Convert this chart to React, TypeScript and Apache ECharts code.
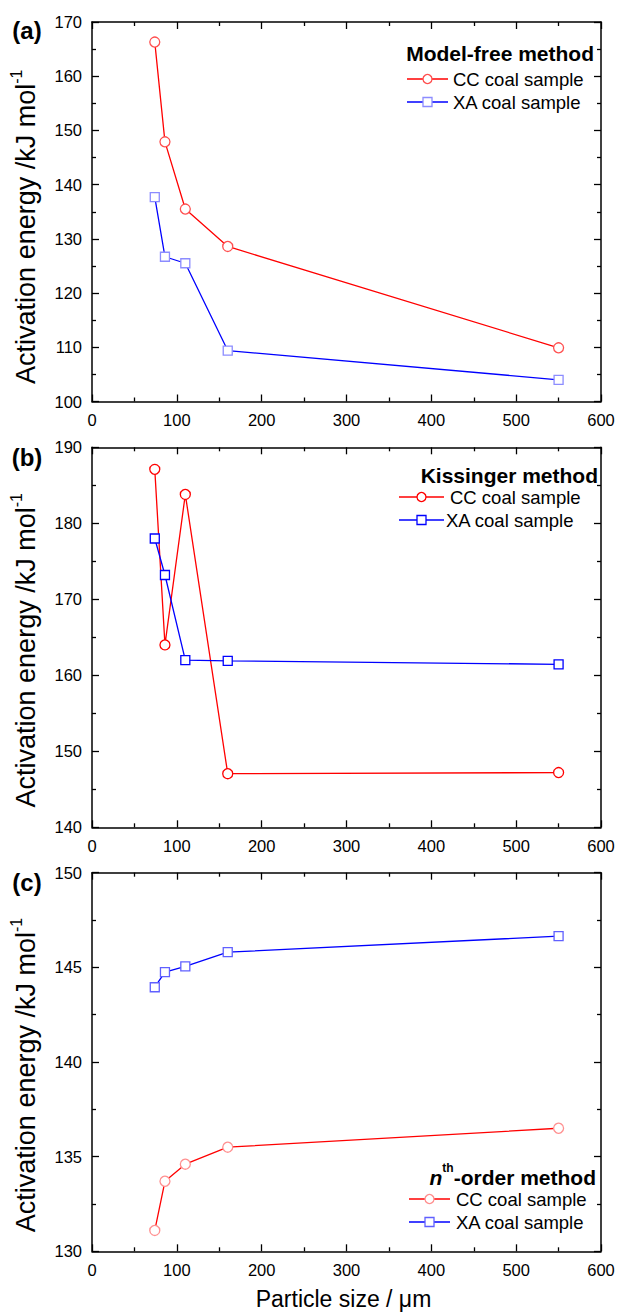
import React, { useEffect, useRef } from "react";
import * as echarts from "echarts";

const particleSizes = [74, 86, 110, 160, 550];
const ccModelFree = [166.3, 147.9, 135.5, 128.6, 109.9];
const xaModelFree = [137.7, 126.7, 125.5, 109.4, 104.0];
const ccKissinger = [187.1, 164.0, 183.8, 147.05, 147.2];
const xaKissinger = [178.0, 173.2, 162.0, 161.9, 161.45];
const ccNthOrder = [131.1, 133.7, 134.6, 135.5, 136.5];
const xaNthOrder = [143.95, 144.75, 145.05, 145.8, 146.65];

const panelLabels = ["(a)", "(b)", "(c)"];
const methodTitles = ["Model-free method", "Kissinger method", "{n|n}{s|th}{t|-order method}"];
const seriesNames = ["CC coal sample", "XA coal sample"];
const yRanges = [
  { min: 100, max: 170, interval: 10 },
  { min: 140, max: 190, interval: 10 },
  { min: 130, max: 150, interval: 5 },
];

const FONT = "Arial, 'Liberation Sans', sans-serif";

export default function App() {
  const ref = useRef<HTMLDivElement>(null);
  useEffect(() => {
    document.body.style.margin = "0";
    const chart = echarts.init(ref.current!, null, { renderer: "svg" });

    const grids = [
      { left: 90.5, top: 22, width: 510.5, height: 379.5 },
      { left: 90.5, top: 447.3, width: 510.5, height: 380 },
      { left: 90.5, top: 872.7, width: 510.5, height: 378.6 },
    ];

    const axisLine = { show: true, onZero: false, lineStyle: { color: "#000", width: 1.5 } };
    const tick = { show: true, inside: true, length: 7, lineStyle: { color: "#000", width: 1.3 } };
    const minor = { show: true, splitNumber: 2, length: 4, lineStyle: { color: "#000", width: 1.3 } };
    const titleShift = [30, 26, 26];

    const xAxes: any[] = [];
    const yAxes: any[] = [];
    grids.forEach((g, i) => {
      xAxes.push({
        type: "value", gridIndex: i, min: 0, max: 600, interval: 100, position: "bottom",
        axisLine, axisTick: tick, minorTick: minor, splitLine: { show: false },
        axisLabel: { color: "#000", fontSize: 16.5, fontFamily: FONT, margin: 10 },
        name: i === 2 ? "Particle size / μm" : "",
        nameLocation: "middle", nameGap: 36,
        nameTextStyle: { color: "#000", fontSize: 23, fontFamily: FONT, padding: [0, 6, 0, 0] },
      });
      xAxes.push({
        type: "value", gridIndex: i, min: 0, max: 600, interval: 100, position: "top",
        axisLine, axisTick: tick, minorTick: minor, splitLine: { show: false },
        axisLabel: { show: false },
      });
      const r = yRanges[i];
      yAxes.push({
        type: "value", gridIndex: i, min: r.min, max: r.max, interval: r.interval, position: "left",
        axisLine, axisTick: tick, minorTick: minor, splitLine: { show: false },
        axisLabel: { color: "#000", fontSize: 16.5, fontFamily: FONT, margin: 10 },
        name: "{a|Activation energy /kJ mol}{s|-1}",
        nameLocation: "middle", nameGap: 53, nameRotate: 90,
        nameTextStyle: {
          color: "#000", fontFamily: FONT, padding: [0, titleShift[i], 0, 0],
          rich: {
            a: { fontSize: 27, fontFamily: FONT, color: "#000", lineHeight: 31, verticalAlign: "bottom" },
            s: { fontSize: 16, fontFamily: FONT, color: "#000", lineHeight: 31, verticalAlign: "top" },
          },
        },
      });
      yAxes.push({
        type: "value", gridIndex: i, min: r.min, max: r.max, interval: r.interval, position: "right",
        axisLine, axisTick: tick, minorTick: minor, splitLine: { show: false },
        axisLabel: { show: false },
      });
    });

    const mk = (vals: number[]) => particleSizes.map((x, k) => [x, vals[k]]);
    const lineSeries = (
      name: string, vals: number[], gi: number, symbol: string, size: number,
      lineColor: string, markerColor: string
    ) => ({
      type: "line", name, data: mk(vals), xAxisIndex: gi * 2, yAxisIndex: gi * 2,
      symbol, symbolSize: size, showSymbol: true,
      lineStyle: { color: lineColor, width: 1.3 },
      itemStyle: { color: "#fff", borderColor: markerColor, borderWidth: 1.3 },
      z: 3,
    });

    const series = [
      lineSeries(seriesNames[0], ccModelFree, 0, "circle", 10, "#ff0000", "#ff5050"),
      lineSeries(seriesNames[1], xaModelFree, 0, "rect", 9, "#0000ff", "#8c8cff"),
      lineSeries(seriesNames[0], ccKissinger, 1, "circle", 10, "#ff0000", "#ff0000"),
      lineSeries(seriesNames[1], xaKissinger, 1, "rect", 9, "#0000ff", "#0000ff"),
      lineSeries(seriesNames[0], ccNthOrder, 2, "circle", 10, "#ff0000", "#ff9090"),
      lineSeries(seriesNames[1], xaNthOrder, 2, "rect", 9, "#0000ff", "#6060ff"),
    ];

    const legends = [
      { titleRight: 594, titleY: 53, row1: 79, row2: 102, lx0: 407, lx1: 448, t1: 453, t2: 453, cc: "#ff5050", xa: "#8c8cff" },
      { titleRight: 598, titleY: 475, row1: 497, row2: 520, lx0: 399, lx1: 444, t1: 450, t2: 446, cc: "#ff0000", xa: "#0000ff" },
      { titleRight: 596, titleY: 1175, row1: 1199, row2: 1222, lx0: 409, lx1: 450, t1: 456, t2: 456, cc: "#ff9090", xa: "#6060ff" },
    ];
    const panelLabelY = [30, 457, 882];

    const graphic: any[] = [];
    legends.forEach((L, i) => {
      graphic.push({
        type: "text", x: 27, y: panelLabelY[i],
        style: { text: panelLabels[i], font: `bold 24px ${FONT}`, fill: "#000", align: "center", verticalAlign: "middle" },
      });
      graphic.push({
        type: "text", x: L.titleRight, y: L.titleY,
        style: {
          text: methodTitles[i], font: `bold 21px ${FONT}`, fill: "#000", align: "right", verticalAlign: "middle",
          rich: {
            n: { font: `italic bold 21px ${FONT}`, fill: "#000", lineHeight: 26, verticalAlign: "bottom" },
            s: { font: `bold 12px ${FONT}`, fill: "#000", lineHeight: 26, verticalAlign: "top" },
            t: { font: `bold 21px ${FONT}`, fill: "#000", lineHeight: 26, verticalAlign: "bottom" },
          },
        },
      });
      const mid = (L.lx0 + L.lx1) / 2;
      [
        { y: L.row1, color: "#ff0000", mc: L.cc, label: seriesNames[0], circle: true, tx: L.t1 },
        { y: L.row2, color: "#0000ff", mc: L.xa, label: seriesNames[1], circle: false, tx: L.t2 },
      ].forEach((row) => {
        graphic.push({ type: "line", shape: { x1: L.lx0, y1: row.y, x2: L.lx1, y2: row.y }, style: { stroke: row.color, lineWidth: 1.3 } });
        if (row.circle) {
          graphic.push({ type: "circle", shape: { cx: mid, cy: row.y, r: 4.5 }, style: { fill: "#fff", stroke: row.mc, lineWidth: 1.3 } });
        } else {
          graphic.push({ type: "rect", shape: { x: mid - 4.5, y: row.y - 4.5, width: 9, height: 9 }, style: { fill: "#fff", stroke: row.mc, lineWidth: 1.3 } });
        }
        graphic.push({
          type: "text", x: row.tx, y: row.y,
          style: { text: row.label, font: `18.5px ${FONT}`, fill: "#000", align: "left", verticalAlign: "middle" },
        });
      });
    });

    chart.setOption({
      animation: false,
      backgroundColor: "#fff",
      grid: grids,
      xAxis: xAxes,
      yAxis: yAxes,
      series,
      graphic,
    });
    return () => chart.dispose();
  }, []);
  return <div ref={ref} style={{ width: 619, height: 1316 }} />;
}
